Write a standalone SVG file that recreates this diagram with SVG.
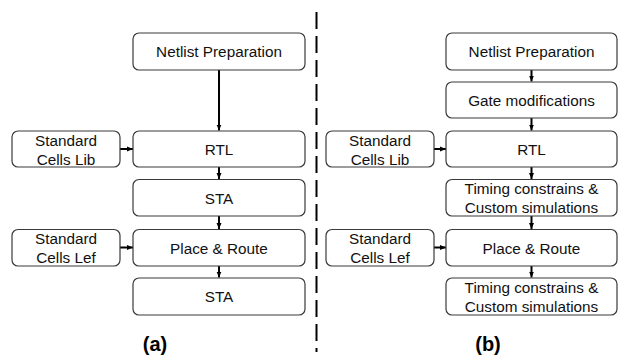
<svg xmlns="http://www.w3.org/2000/svg" width="618" height="358" viewBox="0 0 618 358">
<defs>
<marker id="ah" markerUnits="userSpaceOnUse" markerWidth="6" markerHeight="6" viewBox="0 0 6 6" refX="6" refY="3" orient="auto">
<path d="M0,0.5 L6,3 L0,5.5 Z" fill="#000"/>
</marker>
<style>
.box{fill:#fff;stroke:#3a3a3a;stroke-width:1.2}
.t{font-family:"Liberation Sans",Arial,sans-serif;font-size:15.3px;fill:#111;text-anchor:middle}
.lab{font-family:"Liberation Sans",Arial,sans-serif;font-size:20px;font-weight:bold;fill:#000;text-anchor:middle}
.c{stroke:#000;stroke-width:2;fill:none;marker-end:url(#ah)}
</style>
</defs>
<rect width="618" height="358" fill="#fff"/>
<line x1="316.5" y1="12" x2="316.5" y2="352" stroke="#000" stroke-width="2" stroke-dasharray="17,7"/>
<g id="connectors">
<line class="c" x1="219" y1="70" x2="219" y2="130.5"/>
<line class="c" x1="219" y1="167" x2="219" y2="179"/>
<line class="c" x1="219" y1="216" x2="219" y2="229"/>
<line class="c" x1="219" y1="266" x2="219" y2="277.5"/>
<line class="c" x1="120" y1="149" x2="133" y2="149"/>
<line class="c" x1="120" y1="247.5" x2="133" y2="247.5"/>
<line class="c" x1="531.5" y1="70" x2="531.5" y2="81.5"/>
<line class="c" x1="531.5" y1="118" x2="531.5" y2="130.5"/>
<line class="c" x1="531.5" y1="167" x2="531.5" y2="179"/>
<line class="c" x1="531.5" y1="216" x2="531.5" y2="229"/>
<line class="c" x1="531.5" y1="266" x2="531.5" y2="277.5"/>
<line class="c" x1="434" y1="149" x2="446" y2="149"/>
<line class="c" x1="434" y1="247.5" x2="446" y2="247.5"/>
</g>
<g id="a_netlist"><rect class="box" x="133" y="33" width="172" height="37" rx="6"/><text class="t" x="219" y="57">Netlist Preparation</text></g>
<g id="a_rtl"><rect class="box" x="133" y="131" width="172" height="36" rx="6"/><text class="t" x="219" y="154.5">RTL</text></g>
<g id="a_lib"><rect class="box" x="12" y="131" width="108" height="36" rx="6"/><text class="t" x="66" y="145.5">Standard</text><text class="t" x="66" y="164.5">Cells Lib</text></g>
<g id="a_sta1"><rect class="box" x="133" y="179.5" width="172" height="36.5" rx="6"/><text class="t" x="219" y="203.5">STA</text></g>
<g id="a_pr"><rect class="box" x="133" y="229.5" width="172" height="36.5" rx="6"/><text class="t" x="219" y="253.5">Place &amp; Route</text></g>
<g id="a_lef"><rect class="box" x="12" y="229.5" width="108" height="36.5" rx="6"/><text class="t" x="66" y="244">Standard</text><text class="t" x="66" y="263">Cells Lef</text></g>
<g id="a_sta2"><rect class="box" x="133" y="278" width="172" height="37" rx="6"/><text class="t" x="219" y="302">STA</text></g>
<text class="lab" x="155" y="351">(a)</text>
<g id="b_netlist"><rect class="box" x="446" y="33" width="171" height="37" rx="6"/><text class="t" x="531.5" y="57">Netlist Preparation</text></g>
<g id="b_gate"><rect class="box" x="446" y="82" width="171" height="36" rx="6"/><text class="t" x="531.5" y="105.5">Gate modifications</text></g>
<g id="b_rtl"><rect class="box" x="446" y="131" width="171" height="36" rx="6"/><text class="t" x="531.5" y="154.5">RTL</text></g>
<g id="b_lib"><rect class="box" x="326" y="131" width="108" height="36" rx="6"/><text class="t" x="380" y="145.5">Standard</text><text class="t" x="380" y="164.5">Cells Lib</text></g>
<g id="b_tim1"><rect class="box" x="446" y="179.5" width="171" height="36.5" rx="6"/><text class="t" x="531.5" y="194">Timing constrains &amp;</text><text class="t" x="531.5" y="213">Custom simulations</text></g>
<g id="b_pr"><rect class="box" x="446" y="229.5" width="171" height="36.5" rx="6"/><text class="t" x="531.5" y="253.5">Place &amp; Route</text></g>
<g id="b_lef"><rect class="box" x="326" y="229.5" width="108" height="36.5" rx="6"/><text class="t" x="380" y="244">Standard</text><text class="t" x="380" y="263">Cells Lef</text></g>
<g id="b_tim2"><rect class="box" x="446" y="278" width="171" height="37" rx="6"/><text class="t" x="531.5" y="292.5">Timing constrains &amp;</text><text class="t" x="531.5" y="311.5">Custom simulations</text></g>
<text class="lab" x="488" y="351">(b)</text>
</svg>
